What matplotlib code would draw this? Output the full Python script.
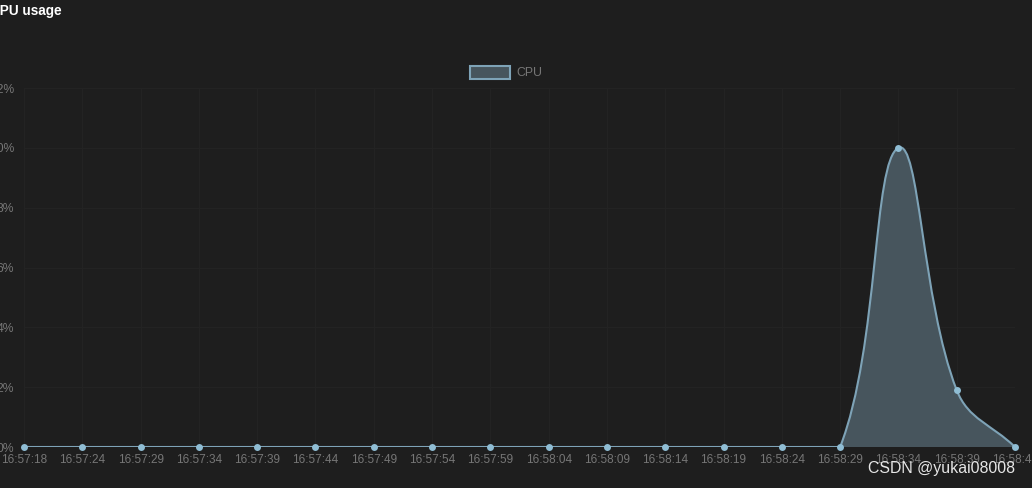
import numpy as np
import matplotlib
matplotlib.use("Agg")
import matplotlib.pyplot as plt
from matplotlib.path import Path
from matplotlib.patches import PathPatch, Rectangle

times = ["16:57:18", "16:57:24", "16:57:29", "16:57:34", "16:57:39", "16:57:44",
         "16:57:49", "16:57:54", "16:57:59", "16:58:04", "16:58:09", "16:58:14",
         "16:58:19", "16:58:24", "16:58:29", "16:58:34", "16:58:39", "16:58:44"]
cpu = [0, 0, 0, 0, 0, 0, 0, 0, 0, 0, 0, 0, 0, 0, 0, 10.0, 1.9, 0]
y_ticks = [0, 2, 4, 6, 8, 10, 12]
y_labels = [f"{v}%" for v in y_ticks]

BG = "#1e1e1e"
LINE = "#7ea3b7"
FILL = "#47555d"
MARK = "#8fbdd4"
TXT = "#767676"
FONT = "Liberation Sans"

W, H = 1032, 488
fig = plt.figure(figsize=(W / 100, H / 100), dpi=100, facecolor=BG)
ax = fig.add_axes([24 / W, (H - 447) / H, (1015 - 24) / W, (447 - 88) / H])
ax.set_facecolor(BG)
x = np.arange(len(times))
ax.set_xlim(0, len(times) - 1)
ax.set_ylim(0, 12)
for s in ax.spines.values():
    s.set_visible(False)
ax.set_xticks(x)
ax.set_xticklabels(times, fontsize=8.5, color=TXT, family=FONT)
ax.set_yticks(y_ticks)
ax.set_yticklabels(y_labels, fontsize=8.7, color=TXT, family=FONT)
ax.tick_params(axis="x", length=0, pad=5.3)
ax.tick_params(axis="y", length=0, pad=7.2)
ax.grid(True, color="#232323", linewidth=0.8)
ax.set_axisbelow(True)

# Chart.js-style bezier spline (tension 0.4) computed in display space
fig.canvas.draw()
pts = ax.transData.transform(np.column_stack([x, cpu]))
bl = ax.transData.transform((0, 0))
tr = ax.transData.transform((len(times) - 1, 12))
t = 0.4
n = len(pts)
cprev = pts.copy()
cnext = pts.copy()
for i in range(n):
    p0 = pts[i - 1] if i > 0 else pts[i]
    p1 = pts[i]
    p2 = pts[i + 1] if i < n - 1 else pts[i]
    d01 = np.hypot(*(p1 - p0))
    d12 = np.hypot(*(p2 - p1))
    tot = d01 + d12
    s01 = d01 / tot if tot else 0
    s12 = d12 / tot if tot else 0
    cprev[i] = p1 - t * s01 * (p2 - p0)
    cnext[i] = p1 + t * s12 * (p2 - p0)
for arr in (cprev, cnext):
    arr[:, 0] = np.clip(arr[:, 0], bl[0], tr[0])
    arr[:, 1] = np.clip(arr[:, 1], bl[1], tr[1])
inv = ax.transData.inverted()
P = inv.transform(pts)
CP = inv.transform(cprev)
CN = inv.transform(cnext)

verts = [tuple(P[0])]
codes = [Path.MOVETO]
for i in range(n - 1):
    verts += [tuple(CN[i]), tuple(CP[i + 1]), tuple(P[i + 1])]
    codes += [Path.CURVE4] * 3
line_path = Path(verts, codes)
fill_verts = verts + [(P[-1][0], 0), (P[0][0], 0), (P[0][0], 0)]
fill_codes = codes + [Path.LINETO, Path.LINETO, Path.CLOSEPOLY]
ax.add_patch(PathPatch(Path(fill_verts, fill_codes), facecolor=FILL, edgecolor="none", zorder=2))
ax.add_patch(PathPatch(line_path, facecolor="none", edgecolor=LINE, linewidth=1.5, zorder=3))
ax.plot(x, cpu, linestyle="none", marker="o", markersize=5, color=MARK,
        markeredgewidth=0, zorder=4, clip_on=False)

# legend
fig.patches.append(Rectangle((470 / W, (H - 79) / H), 40 / W, 13 / H, transform=fig.transFigure,
                             facecolor=FILL, edgecolor=LINE, linewidth=1.5, figure=fig))
fig.text(516 / W, (H - 72.5) / H, "CPU", fontsize=8.8, color=TXT, family=FONT, va="center", ha="left")

# title (partially cut off at left edge)
fig.text(-9.8 / W, (H - 15) / H, "CPU usage", fontsize=9.8, color="white", weight="bold",
         family=FONT, va="baseline", ha="left")

# watermark
fig.text(1015 / W, (H - 469) / H, "CSDN @yukai08008", fontsize=11.4, color="#e6e6e6",
         family=FONT, va="center", ha="right", zorder=10)

fig.savefig("out.png", dpi=100, facecolor=BG)
